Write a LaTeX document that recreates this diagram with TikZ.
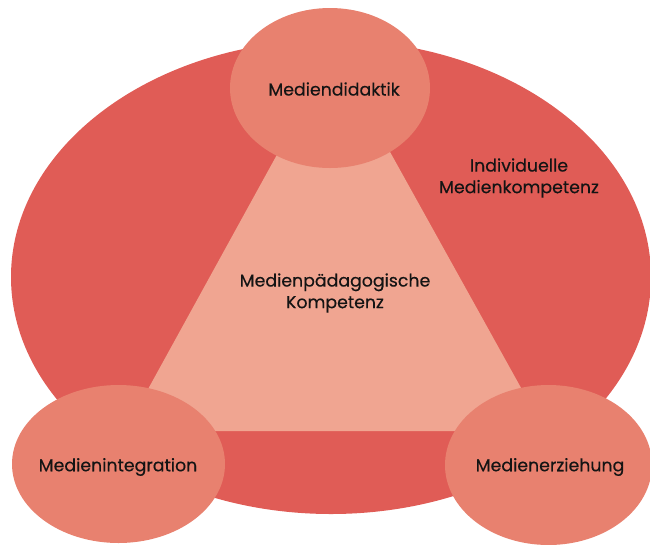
\documentclass[tikz,border=0pt]{standalone}
\usepackage{fontspec}
\setmainfont{Poppins}[FakeBold=0.35]
\definecolor{outerc}{HTML}{E05C56}
\definecolor{smallc}{HTML}{E8816F}
\definecolor{tric}{HTML}{F0A591}
\definecolor{txt}{HTML}{141414}
\begin{document}
\begin{tikzpicture}[x=0.75pt,y=-0.75pt,
  lbl/.style={text=txt,font=\fontsize{13}{16.2}\selectfont,align=center,inner sep=0pt},
  blob/.style={fill=smallc,draw=none}]
\useasboundingbox (0,0) rectangle (650,544);
\fill[outerc] (331,277) ellipse [x radius=320, y radius=237];
\coordinate (apex) at (334,51);
\coordinate (bl) at (125,431);
\coordinate (br) at (545,431);
\fill[tric] (apex) -- (bl) -- (br) -- cycle;
\fill[blob] (330,88) ellipse [x radius=100, y radius=80];
\fill[blob] (118.5,464) ellipse [x radius=106.5, y radius=79];
\fill[blob] (548.5,465) ellipse [x radius=103.5, y radius=80];
\node[lbl] (md) at (334,89) {Mediendidaktik};
\node[lbl] (imk) at (519,178) {Individuelle\\Medienkompetenz};
\node[lbl] (mpk) at (335,293) {Medienpädagogische\\Kompetenz};
\node[lbl] (mi) at (118,467) {Medienintegration};
\node[lbl] (me) at (550,467) {Medienerziehung};
\end{tikzpicture}
\end{document}
